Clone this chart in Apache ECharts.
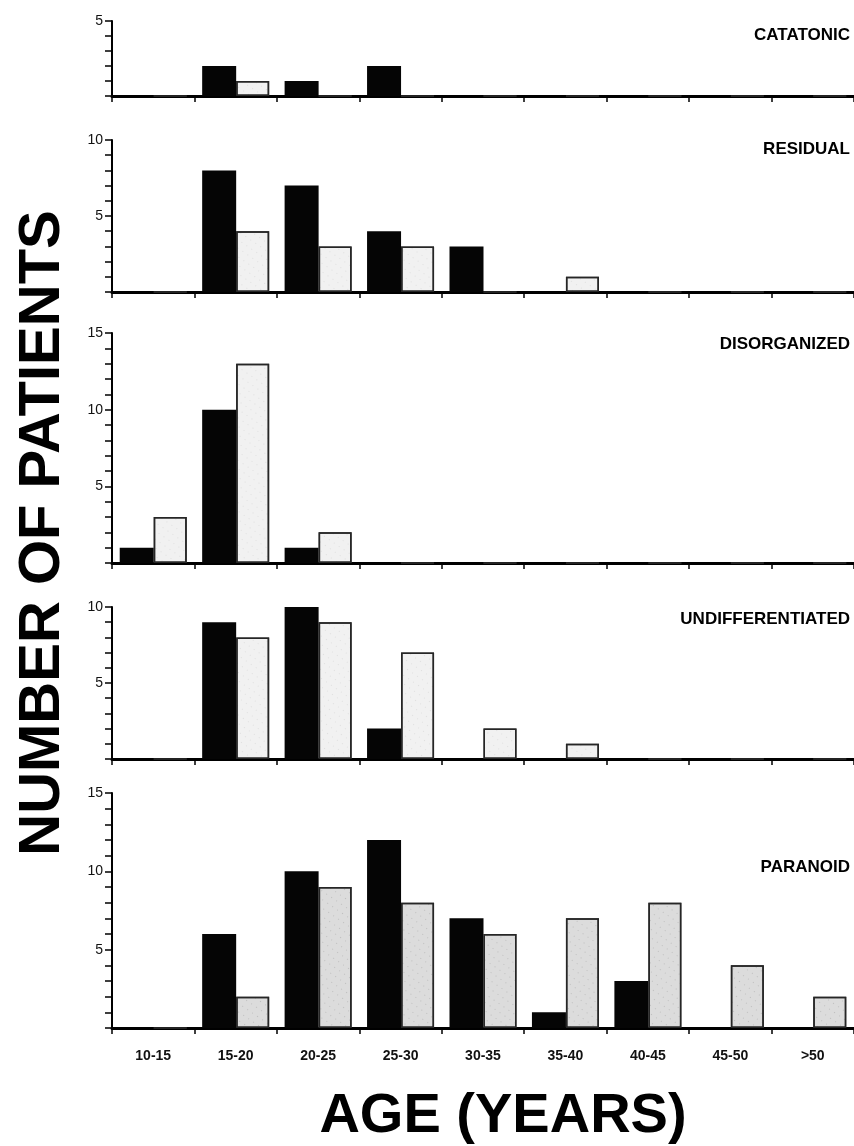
<!DOCTYPE html>
<html>
<head>
<meta charset="utf-8">
<title>Age at onset by subtype</title>
<script src="https://cdn.jsdelivr.net/npm/echarts/dist/echarts.min.js"></script>
<style>
  html, body { margin: 0; padding: 0; background: #fff; }
  #main { width: 854px; height: 1146px; }
</style>
</head>
<body>
<div id="main"></div>
<script>
// age groups on the x axis
var ageGroups = ['10-15', '15-20', '20-25', '25-30', '30-35', '35-40', '40-45', '45-50', '>50'];

// black bars / stippled bars, one pair per subtype
var catatonicBlack = [0, 2, 1, 2, 0, 0, 0, 0, 0];
var catatonicStip  = [0, 1, 0, 0, 0, 0, 0, 0, 0];
var residualBlack  = [0, 8, 7, 4, 3, 0, 0, 0, 0];
var residualStip   = [0, 4, 3, 3, 0, 1, 0, 0, 0];
var disorgBlack    = [1, 10, 1, 0, 0, 0, 0, 0, 0];
var disorgStip     = [3, 13, 2, 0, 0, 0, 0, 0, 0];
var undiffBlack    = [0, 9, 10, 2, 0, 0, 0, 0, 0];
var undiffStip     = [0, 8, 9, 7, 2, 1, 0, 0, 0];
var paranoidBlack  = [0, 6, 10, 12, 7, 1, 3, 0, 0];
var paranoidStip   = [0, 2, 9, 8, 6, 7, 8, 4, 2];

// y axis maximum for each panel
var panelMax = [5, 10, 15, 10, 15];
var panelNames = ['CATATONIC', 'RESIDUAL', 'DISORGANIZED', 'UNDIFFERENTIATED', 'PARANOID'];

// layout of the five stacked panels (pixels)
var layout = [
    {top: 21, bottom: 96, titleY: 27},
    {top: 140, bottom: 292, titleY: 141},
    {top: 333, bottom: 563, titleY: 336},
    {top: 607, bottom: 759, titleY: 611},
    {top: 793, bottom: 1028, titleY: 859}
];
var blackSets = [catatonicBlack, residualBlack, disorgBlack, undiffBlack, paranoidBlack];
var stipSets = [catatonicStip, residualStip, disorgStip, undiffStip, paranoidStip];

var font = '"Liberation Sans", Arial, sans-serif';
var grids = [], xAxes = [], yAxes = [], series = [], graphics = [];

for (var i = 0; i < 5; i++) {
    var last = (i === 4);
    grids.push({
        left: 112,
        top: layout[i].top,
        width: 748,
        height: layout[i].bottom - layout[i].top
    });
    xAxes.push({
        type: 'category',
        gridIndex: i,
        data: ageGroups,
        boundaryGap: true,
        axisLine: {lineStyle: {color: '#000', width: 3}},
        axisTick: {show: true, inside: false, length: 6, lineStyle: {color: '#000', width: 1.5}},
        axisLabel: {
            show: last,
            margin: 21,
            color: '#111',
            fontFamily: font,
            fontSize: 14,
            fontWeight: 'bold'
        },
        splitLine: {show: false}
    });
    yAxes.push({
        type: 'value',
        gridIndex: i,
        min: 0,
        max: panelMax[i],
        interval: 1,
        axisLine: {show: true, lineStyle: {color: '#000', width: 2}},
        axisTick: {show: true, length: 7, lineStyle: {color: '#000', width: 1.5}},
        axisLabel: {
            margin: 9,
            color: '#111',
            fontFamily: font,
            fontSize: 14,
            formatter: function (v) {
                return (v > 0 && v % 5 === 0) ? String(v) : '';
            }
        },
        splitLine: {show: false}
    });
    series.push({
        type: 'bar',
        xAxisIndex: i,
        yAxisIndex: i,
        data: blackSets[i],
        barWidth: 34,
        barGap: '0%',
        itemStyle: {color: '#050505'}
    });
    series.push({
        type: 'bar',
        xAxisIndex: i,
        yAxisIndex: i,
        data: stipSets[i],
        barWidth: 33,
        barGap: '0%',
        itemStyle: {
            color: last ? '#dcdcdc' : '#f1f1f1',
            borderColor: '#262626',
            borderWidth: 1.5,
            decal: {
                symbol: 'rect',
                symbolSize: 0.6,
                color: last ? 'rgba(0,0,0,0.45)' : 'rgba(0,0,0,0.25)',
                dashArrayX: [1, 5],
                dashArrayY: [1, 6],
                rotation: 0.6
            }
        }
    });
    graphics.push({
        type: 'text',
        right: 4,
        top: layout[i].titleY,
        style: {
            text: panelNames[i],
            fill: '#000',
            font: 'bold 17px ' + font
        }
    });
}

// axis titles
graphics.push({
    type: 'text',
    x: 43,
    y: 533,
    rotation: Math.PI / 2,
    style: {
        text: 'NUMBER OF PATIENTS',
        fill: '#000',
        font: 'bold 58px ' + font,
        textAlign: 'center',
        textVerticalAlign: 'middle'
    }
});
graphics.push({
    type: 'text',
    x: 503,
    y: 1117,
    style: {
        text: 'AGE (YEARS)',
        fill: '#000',
        font: 'bold 56px ' + font,
        textAlign: 'center',
        textVerticalAlign: 'middle'
    }
});

var chart = echarts.init(document.getElementById('main'));
chart.setOption({
    animation: false,
    backgroundColor: '#fff',
    grid: grids,
    xAxis: xAxes,
    yAxis: yAxes,
    series: series,
    graphic: graphics
});
window.onresize = chart.resize;
</script>
</body>
</html>
